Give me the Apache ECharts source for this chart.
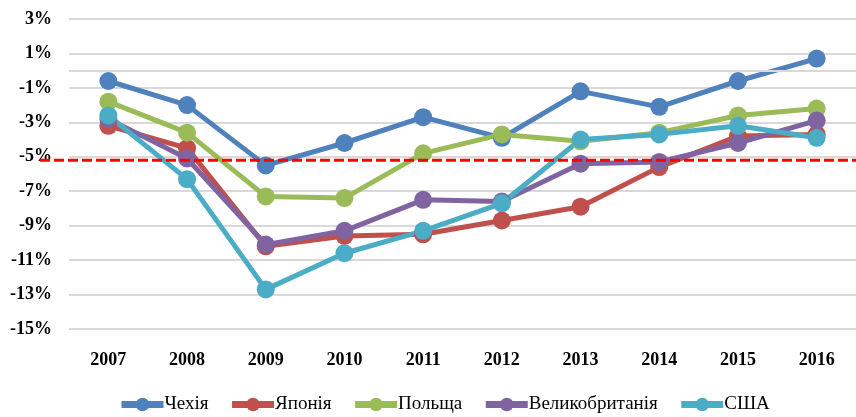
<!DOCTYPE html>
<html>
<head>
<meta charset="utf-8">
<script src="https://cdn.jsdelivr.net/npm/echarts@6/dist/echarts.min.js"></script>
<style>
  html, body { margin: 0; padding: 0; background: #fff; }
  #chart { width: 856px; height: 417px; }
</style>
</head>
<body>
<div id="chart"></div>
<script>
// Annual values, % (2007–2016)
const years = ['2007', '2008', '2009', '2010', '2011', '2012', '2013', '2014', '2015', '2016'];
const czech  = [-0.6, -2.0, -5.5, -4.2, -2.7, -3.9, -1.2, -2.1, -0.6, 0.7];
const japan  = [-3.2, -4.5, -10.2, -9.6, -9.5, -8.7, -7.9, -5.6, -3.8, -3.7];
const poland = [-1.8, -3.6, -7.3, -7.4, -4.8, -3.7, -4.1, -3.6, -2.6, -2.2];
const uk     = [-2.8, -5.1, -10.1, -9.3, -7.5, -7.6, -5.4, -5.3, -4.2, -2.9];
const usa    = [-2.6, -6.3, -12.7, -10.6, -9.3, -7.7, -4.0, -3.7, -3.2, -3.9];
const seriesNames = ['Чехія', 'Японія', 'Польща', 'Великобританія', 'США'];
const threshold = -5.2;

const colors = ['#4F81BD', '#C0504D', '#9BBB59', '#8064A2', '#4BACC6'];
const seriesData = [czech, japan, poland, uk, usa];
const serif = '"Liberation Serif", "Times New Roman", serif';

const chart = echarts.init(document.getElementById('chart'));

const series = seriesData.map((d, i) => ({
  name: seriesNames[i],
  type: 'line',
  data: d,
  symbol: 'circle',
  symbolSize: 18,
  lineStyle: { width: 5, color: colors[i] },
  itemStyle: { color: colors[i] },
  emphasis: { disabled: true },
  animation: false
}));

// horizontal axis crossing at zero
series[0].markLine = {
  silent: true,
  symbol: ['none', 'none'],
  label: { show: false },
  lineStyle: { color: '#d9d9d9', width: 2, type: 'solid' },
  data: [{ yAxis: 0 }],
  animation: false
};

chart.setOption({
  animation: false,
  color: colors,
  grid: { left: 69, top: 19, width: 793, height: 310, containLabel: false },
  xAxis: {
    type: 'category',
    data: years,
    boundaryGap: true,
    axisLine: { show: false },
    axisTick: { show: false },
    axisLabel: {
      margin: 22,
      fontFamily: serif,
      fontWeight: 'bold',
      fontSize: 18,
      color: '#000'
    }
  },
  yAxis: {
    type: 'value',
    min: -15,
    max: 3,
    interval: 2,
    axisLine: { show: false },
    axisTick: { show: false },
    splitLine: { lineStyle: { color: '#d9d9d9', width: 2 } },
    axisLabel: {
      margin: 17,
      fontFamily: serif,
      fontWeight: 'bold',
      fontSize: 18,
      color: '#000',
      formatter: v => v + '%'
    }
  },
  legend: {
    data: seriesNames,
    bottom: -2,
    left: 113,
    itemWidth: 42,
    itemHeight: 17,
    itemGap: 20,
    lineStyle: { width: 7 },
    textStyle: { fontFamily: serif, fontSize: 19, color: '#000', padding: [0, 0, 0, -4] }
  },
  series: series
});

// red dashed reference level across the chart
const yPix = chart.convertToPixel({ yAxisIndex: 0 }, threshold);
chart.setOption({
  graphic: [{
    type: 'line',
    z: 100,
    silent: true,
    shape: { x1: 40, y1: yPix, x2: 856, y2: yPix },
    style: { stroke: '#FF0000', lineWidth: 3, lineDash: [10, 4] }
  }]
});
</script>
</body>
</html>
